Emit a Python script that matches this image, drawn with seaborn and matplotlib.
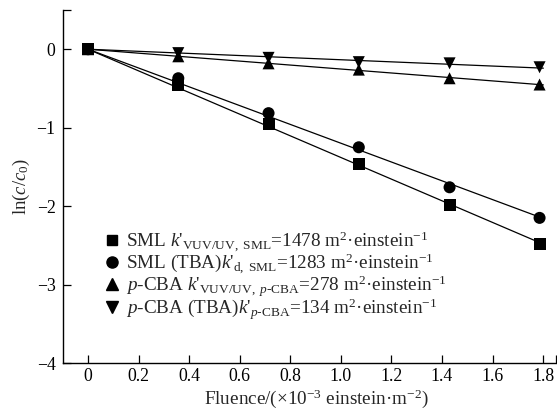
import numpy as np
import pandas as pd
import matplotlib
matplotlib.use("Agg")
import matplotlib.pyplot as plt
import seaborn as sns
from matplotlib.lines import Line2D

# ---- data ----
fluence = [0.0, 0.357, 0.714, 1.071, 1.430, 1.786]
sml = [0.0, -0.45, -0.955, -1.465, -1.99, -2.48]
sml_tba = [0.0, -0.37, -0.815, -1.25, -1.76, -2.15]
pcba = [0.0, -0.09, -0.18, -0.26, -0.37, -0.45]
pcba_tba = [0.0, -0.05, -0.11, -0.165, -0.18, -0.23]

series_names = ["SML", "SML (TBA)", "p-CBA", "p-CBA (TBA)"]
series_values = [sml, sml_tba, pcba, pcba_tba]
legend_labels = [
    r"SML $k$'$_{\mathrm{VUV/UV,\ SML}}$=1478 m$^{2}$·einstein$^{-1}$",
    r"SML (TBA)$k$'$_{\mathrm{d,\ SML}}$=1283 m$^{2}$·einstein$^{-1}$",
    r"$p$-CBA $k$'$_{\mathrm{VUV/UV,}\ p\text{-CBA}}$=278 m$^{2}$·einstein$^{-1}$",
    r"$p$-CBA (TBA)$k$'$_{p\text{-CBA}}$=134 m$^{2}$·einstein$^{-1}$",
]
x_ticks = [0, 0.2, 0.4, 0.6, 0.8, 1.0, 1.2, 1.4, 1.6, 1.8]
x_tick_labels = ["0", "0.2", "0.4", "0.6", "0.8", "1.0", "1.2", "1.4", "1.6", "1.8"]
y_ticks = [-4, -3, -2, -1, 0]
y_tick_labels = ["−4", "−3", "−2", "−1", "0"]

markers = ["s", "o", "^", "v"]
msizes = [7.2, 8.0, 8.5, 8.5]

df = pd.DataFrame({
    "fluence": np.tile(fluence, len(series_names)),
    "value": np.concatenate(series_values),
    "series": np.repeat(series_names, len(fluence)),
})

sns.set_theme(style="ticks")
plt.rcParams["font.family"] = ["Liberation Serif", "DejaVu Serif"]
plt.rcParams["mathtext.fontset"] = "custom"
plt.rcParams["mathtext.rm"] = "Liberation Serif"
plt.rcParams["mathtext.it"] = "Liberation Serif:italic"
plt.rcParams["mathtext.bf"] = "Liberation Serif:bold"
plt.rcParams["axes.unicode_minus"] = True

fig = plt.figure(figsize=(5.57, 4.12), dpi=100)
ax = fig.add_axes([62.5 / 557, 49 / 412, 493.5 / 557, 353 / 412])

xmin, xmax = -0.101, 1.851
ymin, ymax = -4.0, 0.5

# fitted lines through origin
xf = np.array([0.0, max(fluence) + 0.015])
for vals in series_values:
    x = np.array(fluence)
    y = np.array(vals)
    slope = np.sum(x * y) / np.sum(x * x)
    sns.lineplot(x=xf, y=slope * xf, ax=ax, color="black", lw=0.9, zorder=2)

sns.scatterplot(data=df, x="fluence", y="value", style="series", markers=dict(zip(series_names, markers)),
                color="black", s=75, edgecolor="black", linewidth=0, ax=ax, legend=False, zorder=3)

ax.set_xlim(xmin, xmax)
ax.set_ylim(ymin, ymax)
ax.set_xticks(x_ticks + [xmax])
ax.set_xticklabels(x_tick_labels + [""])
ax.set_yticks(y_ticks + [ymax])
ax.set_yticklabels(y_tick_labels + [""])
ax.tick_params(direction="in", length=6, width=0.9, labelsize=12.8, colors="black")
ax.tick_params(axis="y", pad=5)
for side in ["top", "right"]:
    ax.spines[side].set_visible(False)
for side in ["left", "bottom"]:
    ax.spines[side].set_linewidth(1.0)
    ax.spines[side].set_color("black")

ax.set_xlabel(r"Fluence/($\times$10$^{-3}$ einstein·m$^{-2}$)", fontsize=13.8)
ax.xaxis.set_label_coords(0.515, -0.068)
ax.set_ylabel(r"ln($c$/$c_{0}$)", fontsize=13.5, labelpad=3)

handles = [Line2D([], [], ls="none", marker=m, color="black", markersize=ms) for m, ms in zip(markers, msizes)]
ax.legend(handles, legend_labels, loc="lower left", bbox_to_anchor=(0.07, 0.09), frameon=False,
          fontsize=13.8, handlelength=0.6, handletextpad=0.4, labelspacing=-0.12, borderpad=0)

fig.savefig("out.png", dpi=100)
